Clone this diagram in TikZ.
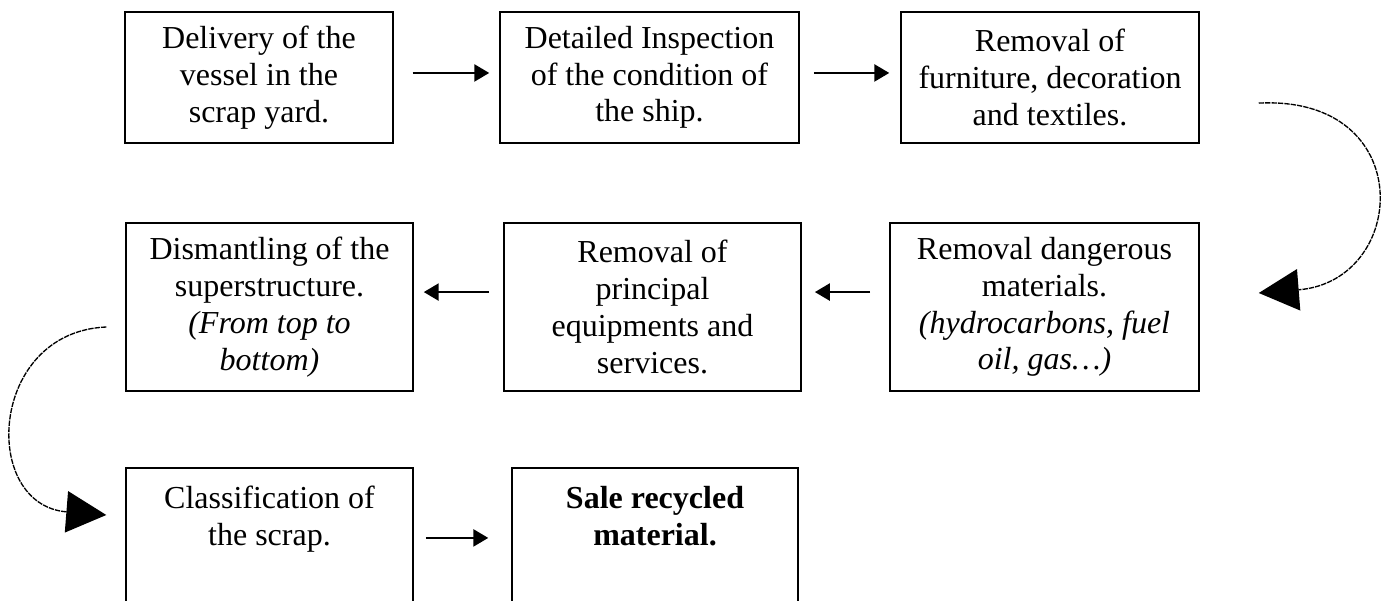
\documentclass[tikz,border=0pt]{standalone}
\usepackage{fontspec}
\setmainfont{Liberation Serif}
\usetikzlibrary{arrows.meta}

\tikzstyle{stagebox}=[draw, line width=0.6pt, align=flush center, inner xsep=4pt, inner ysep=0pt, font=\fontsize{12}{13.8}\selectfont]
\tikzstyle{stageopen}=[stagebox, anchor=north, inner ysep=7pt, text depth=50pt]
\tikzstyle{flowarrow}=[line width=0.8pt, -{Triangle[length=5.6pt,width=6.4pt]}]
\tikzstyle{turnarrow}=[line width=0.5pt, dash pattern=on 2pt off 0.4pt, -{Triangle[length=15pt,width=15.5pt]}]

\begin{document}
\begin{tikzpicture}[x=0.375pt, y=-0.375pt]
            \useasboundingbox (0,0) rectangle (1387,601);
            \clip (0,0) rectangle (1387,601);
            \node[stagebox, text width=92.5pt, minimum height=49.1pt] at (259,77.5) (A) {Delivery of the\\ vessel in the\\ scrap yard.};
            \node[stagebox, text width=104.1pt, minimum height=49.1pt] at (649.5,77.5) (B) {Detailed Inspection\\ of the condition of\\ the ship.};
            \node[stagebox, text width=103.75pt, minimum height=49.1pt] at (1050,77.5) (C) {Removal of\\ furniture, decoration\\ and textiles.};
            \node[stagebox, text width=99.6pt, minimum height=63pt] at (269.5,307) (D) {Dismantling of the\\ superstructure.\\ \textit{(From top to}\\ \textit{bottom)}};
            \node[stagebox, text width=103.4pt, minimum height=63pt] at (652.5,307) (E) {Removal of\\ principal\\ equipments and\\ services.};
            \node[stagebox, text width=107.9pt, minimum height=63pt] at (1044.5,307) (F) {Removal dangerous\\ materials.\\ \textit{(hydrocarbons, fuel}\\ \textit{oil, gas…)}};
            \node[stageopen, text width=99.6pt] at (269.5,467) (G) {Classification of\\ the scrap.};
            \node[stageopen, text width=99.25pt] at (655,467) (H) {\textbf{Sale recycled}\\ \textbf{material.}};
            \draw[flowarrow, shorten <=7.1pt, shorten >=3.75pt] ([yshift=1.7pt]A.east) -- ([yshift=1.7pt]B.west);
            \draw[flowarrow, shorten <=5.25pt, shorten >=4.1pt] ([yshift=1.7pt]B.east) -- ([yshift=1.7pt]C.west);
            \draw[turnarrow] ([xshift=22.1pt,yshift=-9.6pt]C.east) .. controls +(160,-8) and +(150,-12) .. ([xshift=22.1pt,yshift=5.25pt]F.east);
            \draw[flowarrow, shorten <=7.1pt, shorten >=4.9pt] ([yshift=5.6pt]F.west) -- ([yshift=5.6pt]E.east);
            \draw[flowarrow, shorten <=5.25pt, shorten >=3.75pt] ([yshift=5.6pt]E.west) -- ([yshift=5.6pt]D.east);
            \draw[turnarrow] ([xshift=-7.1pt,yshift=-7.5pt]D.west) .. controls +(-118,5) and +(-126,-10) .. ([xshift=-7.1pt,yshift=-18pt]G.north west);
            \draw[flowarrow, shorten <=4.5pt, shorten >=8.6pt] ([yshift=-26.6pt]G.north east) -- ([yshift=-26.6pt]H.north west);
        \end{tikzpicture}
\end{document}
